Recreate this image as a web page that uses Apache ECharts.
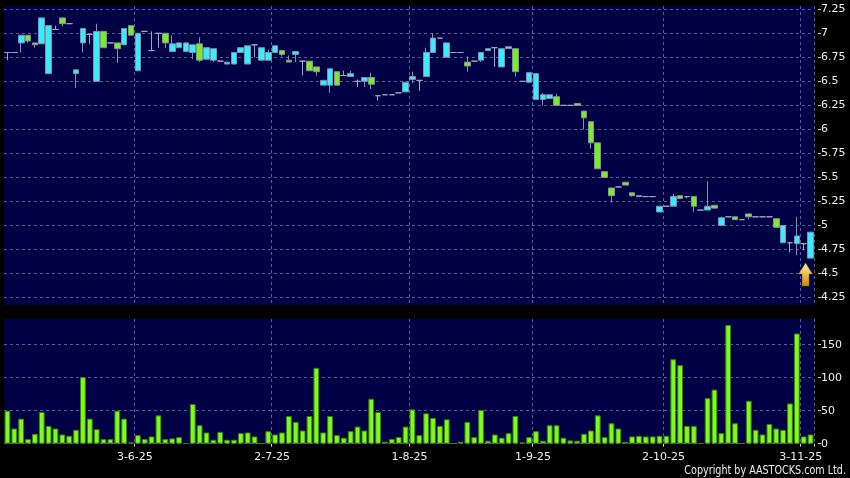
<!DOCTYPE html>
<html>
<head>
<meta charset="utf-8">
<title>Daily chart</title>
<script src="https://cdn.jsdelivr.net/npm/echarts@6/dist/echarts.min.js"></script>
<style>
  html, body { margin: 0; padding: 0; background: #000000; }
  #chart { width: 850px; height: 478px; }
</style>
</head>
<body>
<div id="chart"></div>
<script>
// one row per trading day: [open, close, low, high]
const ohlc = [
  [6.80, 6.80, 6.72, 6.80], [6.80, 6.80, 6.80, 6.80], [6.90, 6.98, 6.80, 6.98], [6.98, 6.92, 6.90, 6.98],
  [6.90, 6.88, 6.85, 6.90], [6.89, 7.16, 6.89, 7.16], [6.58, 7.08, 6.58, 7.08], [7.04, 7.04, 7.04, 7.08],
  [7.16, 7.10, 7.07, 7.16], [7.10, 7.10, 7.10, 7.10], [6.58, 6.62, 6.43, 6.62], [6.90, 7.05, 6.80, 7.05],
  [6.99, 6.99, 6.89, 6.99], [6.50, 7.02, 6.50, 7.10], [7.02, 6.85, 6.85, 7.02], [6.90, 6.90, 6.90, 6.90],
  [6.90, 6.84, 6.69, 6.90], [6.88, 7.05, 6.88, 7.05], [7.08, 6.98, 6.98, 7.08], [6.61, 7.00, 6.61, 7.00],
  [7.02, 7.02, 7.02, 7.02], [6.82, 6.82, 6.82, 7.02], [7.00, 7.00, 6.85, 7.00], [7.00, 6.90, 6.85, 7.00],
  [6.81, 6.89, 6.81, 6.98], [6.85, 6.90, 6.85, 6.90], [6.81, 6.90, 6.81, 6.90], [6.80, 6.88, 6.73, 6.88],
  [6.89, 6.72, 6.70, 6.96], [6.73, 6.85, 6.73, 6.85], [6.72, 6.84, 6.70, 6.84], [6.71, 6.71, 6.70, 6.72],
  [6.68, 6.70, 6.68, 6.70], [6.68, 6.80, 6.68, 6.80], [6.80, 6.85, 6.80, 6.85], [6.68, 6.87, 6.68, 6.87],
  [6.88, 6.88, 6.75, 6.88], [6.72, 6.85, 6.72, 6.85], [6.72, 6.80, 6.72, 6.83], [6.80, 6.87, 6.80, 6.87],
  [6.82, 6.78, 6.76, 6.82], [6.72, 6.70, 6.70, 6.77], [6.78, 6.81, 6.70, 6.81], [6.71, 6.71, 6.56, 6.71],
  [6.71, 6.61, 6.61, 6.71], [6.65, 6.60, 6.56, 6.65], [6.46, 6.51, 6.46, 6.51], [6.46, 6.63, 6.38, 6.63],
  [6.60, 6.46, 6.46, 6.60], [6.56, 6.56, 6.56, 6.61], [6.55, 6.58, 6.55, 6.61], [6.50, 6.50, 6.44, 6.52],
  [6.50, 6.54, 6.44, 6.54], [6.54, 6.47, 6.42, 6.59], [6.35, 6.35, 6.30, 6.35], [6.36, 6.36, 6.36, 6.36],
  [6.36, 6.36, 6.36, 6.36], [6.38, 6.38, 6.38, 6.38], [6.39, 6.49, 6.39, 6.49], [6.52, 6.55, 6.48, 6.60],
  [6.51, 6.51, 6.40, 6.51], [6.55, 6.80, 6.55, 6.85], [6.80, 6.95, 6.80, 7.00], [6.95, 6.95, 6.95, 6.95],
  [6.75, 6.90, 6.75, 6.90], [6.80, 6.80, 6.80, 6.80], [6.80, 6.80, 6.80, 6.80], [6.70, 6.66, 6.60, 6.76],
  [6.71, 6.71, 6.71, 6.71], [6.72, 6.80, 6.70, 6.80], [6.82, 6.84, 6.82, 6.84], [6.85, 6.85, 6.65, 6.85],
  [6.65, 6.84, 6.65, 6.84], [6.84, 6.86, 6.84, 6.86], [6.84, 6.60, 6.55, 6.84], [6.50, 6.50, 6.50, 6.50],
  [6.49, 6.59, 6.49, 6.59], [6.31, 6.58, 6.31, 6.58], [6.31, 6.36, 6.25, 6.38], [6.32, 6.36, 6.32, 6.36],
  [6.34, 6.25, 6.25, 6.37], [6.25, 6.25, 6.25, 6.25], [6.25, 6.25, 6.25, 6.25], [6.27, 6.25, 6.25, 6.27],
  [6.19, 6.12, 6.00, 6.19], [6.08, 5.86, 5.80, 6.08], [5.86, 5.59, 5.59, 5.86], [5.56, 5.50, 5.50, 5.56],
  [5.39, 5.31, 5.24, 5.39], [5.40, 5.40, 5.40, 5.40], [5.45, 5.42, 5.42, 5.45], [5.34, 5.31, 5.30, 5.34],
  [5.31, 5.30, 5.30, 5.31], [5.30, 5.30, 5.30, 5.30], [5.30, 5.30, 5.30, 5.30], [5.14, 5.20, 5.14, 5.20],
  [5.20, 5.20, 5.20, 5.20], [5.20, 5.30, 5.20, 5.33], [5.31, 5.28, 5.28, 5.31], [5.30, 5.30, 5.28, 5.30],
  [5.30, 5.20, 5.14, 5.30], [5.16, 5.16, 5.16, 5.16], [5.16, 5.20, 5.16, 5.46], [5.21, 5.18, 5.18, 5.21],
  [5.00, 5.08, 5.00, 5.09], [5.09, 5.09, 5.09, 5.09], [5.09, 5.06, 5.06, 5.09], [5.06, 5.06, 5.06, 5.06],
  [5.12, 5.09, 5.06, 5.12], [5.09, 5.09, 5.09, 5.09], [5.09, 5.09, 5.09, 5.09], [5.09, 5.09, 5.09, 5.09],
  [5.07, 4.98, 4.98, 5.07], [4.82, 5.00, 4.82, 5.00], [4.82, 4.82, 4.72, 4.82], [4.81, 4.89, 4.69, 5.09],
  [4.81, 4.81, 4.74, 4.81], [4.66, 4.93, 4.66, 4.93]
];

const volume = [
  50, 23, 38, 7, 15, 48, 27, 23, 14, 12,
  21, 101, 38, 22, 7, 7, 50, 38, 2, 13,
  7, 11, 43, 7, 8, 10, 0.5, 60, 28, 17,
  6, 18, 6, 6, 16, 17, 11, 0.5, 19, 14,
  17, 42, 33, 20, 42, 115, 17, 42, 13, 9,
  19, 26, 20, 68, 48, 3, 7, 10, 26, 52,
  13, 46, 39, 27, 37, 0.5, 3, 33, 10, 51,
  4.5, 14, 9, 16, 42, 2, 10, 19, 4.5, 28,
  28, 9, 5, 4.5, 15, 20, 43, 10, 31, 23,
  3, 11, 12, 11, 11, 12, 12, 128, 119, 27,
  27, 0.5, 69, 82, 16, 180, 31, 0.5, 65, 21,
  14, 30, 23, 21, 61, 167, 11, 14
];

// first trading day of each month and its label
const labelIndex = [19, 39, 59, 77, 96, 116];
const tickLabels = ['3-6-25', '2-7-25', '1-8-25', '1-9-25', '2-10-25', '3-11-25'];
const priceTicks = [4.25, 4.5, 4.75, 5, 5.25, 5.5, 5.75, 6, 6.25, 6.5, 6.75, 7, 7.25];
const volumeTicks = [0, 50, 100, 150];
const arrowPrice = 4.49;

const categories = ohlc.map((d, i) => String(i));
const isMonthStart = (index) => labelIndex.indexOf(index) >= 0;

const plotBg = '#000044';
const gridColor = '#5c5c98';
const textColor = '#eeeeee';
const font = 'DejaVu Sans';

const chart = echarts.init(document.getElementById('chart'));

const dashed = {
  show: true,
  lineStyle: { color: gridColor, type: [3, 3], width: 1 }
};

chart.setOption({
  backgroundColor: '#000000',
  animation: false,
  grid: [
    { left: 4, right: 36, top: 6, height: 299, show: true, backgroundColor: plotBg, borderWidth: 0 },
    { left: 4, right: 36, top: 319, height: 124.7, show: true, backgroundColor: plotBg, borderWidth: 0 }
  ],
  xAxis: [
    {
      type: 'category',
      gridIndex: 0,
      data: categories,
      boundaryGap: true,
      axisLine: { show: false },
      axisTick: { show: false },
      axisLabel: { show: false },
      splitLine: { ...dashed, interval: (index) => isMonthStart(index) }
    },
    {
      type: 'category',
      gridIndex: 1,
      data: categories,
      boundaryGap: true,
      offset: 2,
      axisLine: { show: false },
      axisTick: {
        show: true,
        length: 3,
        interval: (index) => isMonthStart(index),
        lineStyle: { color: '#cccccc' }
      },
      axisLabel: {
        show: true,
        interval: (index) => isMonthStart(index),
        formatter: (value, index) => tickLabels[labelIndex.indexOf(index)] || '',
        color: textColor,
        fontFamily: font,
        fontSize: 11,
        margin: 6,
        padding: [0, 6, 0, 0]
      },
      splitLine: { ...dashed, interval: (index) => isMonthStart(index) }
    }
  ],
  yAxis: [
    {
      type: 'value',
      gridIndex: 0,
      position: 'right',
      min: 4.172,
      max: 7.284,
      offset: 4,
      axisLine: { show: false },
      axisTick: {
        show: true,
        length: 3,
        customValues: priceTicks,
        lineStyle: { color: '#cccccc' }
      },
      axisLabel: {
        customValues: priceTicks,
        color: textColor,
        fontFamily: font,
        fontSize: 11,
        margin: 3
      },
      splitLine: dashed
    },
    {
      type: 'value',
      gridIndex: 1,
      position: 'right',
      min: 0,
      max: 189,
      offset: 4,
      axisLine: { show: false },
      axisTick: {
        show: true,
        length: 3,
        customValues: volumeTicks,
        lineStyle: { color: '#cccccc' }
      },
      axisLabel: {
        customValues: volumeTicks,
        color: textColor,
        fontFamily: font,
        fontSize: 11,
        margin: 3
      },
      splitLine: dashed
    }
  ],
  series: [
    {
      type: 'candlestick',
      xAxisIndex: 0,
      yAxisIndex: 0,
      data: ohlc,
      barWidth: '90%',
      itemStyle: {
        color: '#33eeff',
        color0: '#77ee22',
        borderColor: '#8c8ca4',
        borderColor0: '#8c8ca4',
        borderColorDoji: '#a4a4bc',
        borderWidth: 1
      },
      markPoint: {
        silent: true,
        symbol: 'path://M7,0 L14,11 L10.5,11 L10.5,23 L3.5,23 L3.5,11 L0,11 Z',
        symbolSize: [14, 23],
        symbolOffset: [-5, 0],
        label: { show: false },
        itemStyle: {
          color: new echarts.graphic.LinearGradient(0, 0, 0, 1, [
            { offset: 0, color: '#fff2a0' },
            { offset: 1, color: '#d08800' }
          ]),
          borderColor: '#8a5c00',
          borderWidth: 0.5
        },
        data: [{ coord: [ohlc.length - 1, arrowPrice] }]
      }
    },
    {
      type: 'bar',
      xAxisIndex: 1,
      yAxisIndex: 1,
      data: volume,
      barWidth: '84%',
      itemStyle: {
        color: '#7dfa1e',
        borderColor: '#3f8010',
        borderWidth: 1
      }
    }
  ],
  graphic: [
    {
      type: 'text',
      x: 846,
      y: 471,
      scaleX: 0.8,
      style: {
        text: 'Copyright by AASTOCKS.com Ltd.',
        fill: textColor,
        font: '12px "DejaVu Sans"',
        textAlign: 'right',
        textVerticalAlign: 'middle'
      }
    }
  ]
});
</script>
</body>
</html>
